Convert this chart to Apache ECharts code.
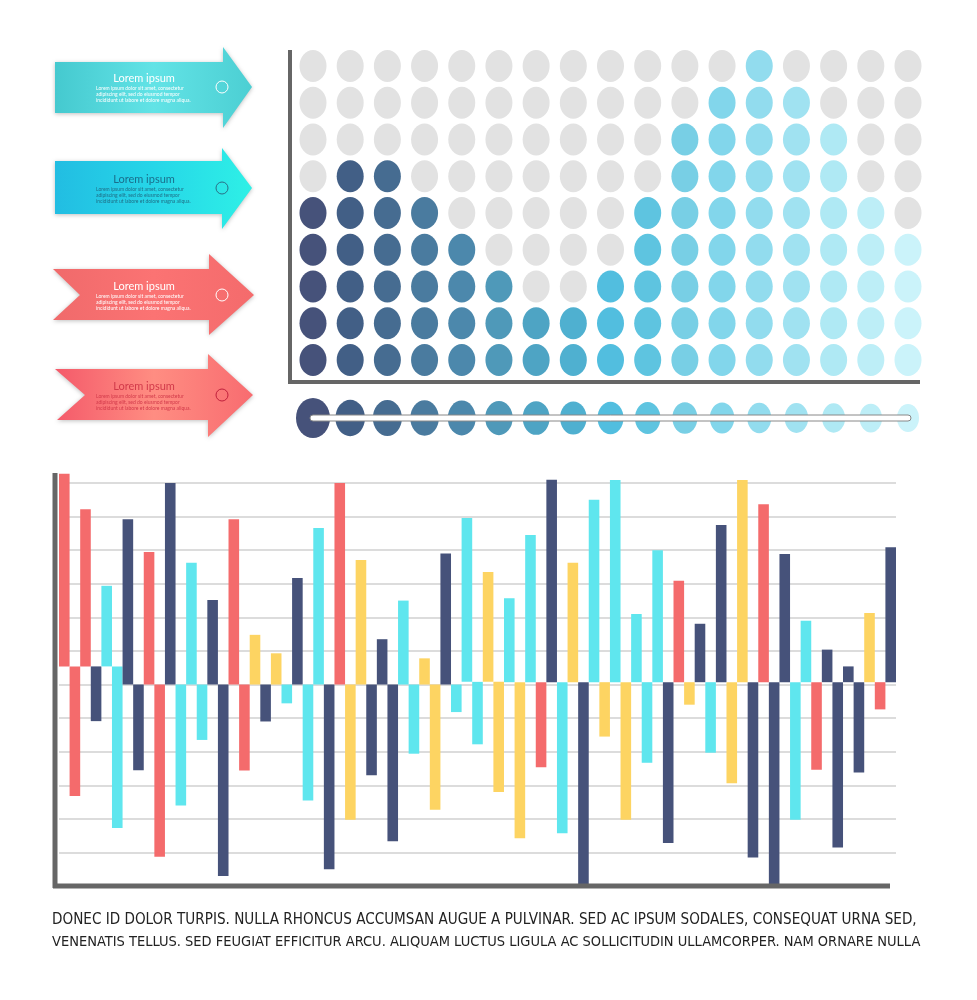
<!DOCTYPE html>
<html><head><meta charset="utf-8">
<script src="https://cdn.jsdelivr.net/npm/echarts@6/dist/echarts.min.js"></script>
<style>html,body{margin:0;padding:0;background:#fff}#c{width:977px;height:1000px}</style>
</head><body><div id="c"></div>
<script>
// ---- Dot matrix data ----
const dotColumnHeights = [5,6,6,5,4,3,2,2,3,5,7,8,9,8,7,5,4];
const dotRows = 9;
const dotColors = ['#46527a','#425f86','#466c91','#4a7b9f','#4c88ac','#4f99b9','#4ea4c4','#4fb0d0','#52bedf','#5ec4e0','#78cfe5','#82d6eb','#92dcee','#a0e2f1','#afe9f4','#bdeef7','#cbf3fa'];
// ---- Bar chart data: low / high value and colour key per bar ----
const barLow  = [0.54,-3.32,0.54,-1.09,0.54,-4.27,0,-2.55,0,-5.13,0,-3.6,0,-1.65,0,-5.7,0,-2.56,0,-1.1,0,-0.56,0,-3.45,0,-5.5,0,-4.03,0,-2.7,0,-4.67,0,-2.06,0,-3.73,0,-0.82,0.08,-1.78,0.08,-3.2,0.07,-4.58,0.07,-2.46,0.07,-4.43,0.07,-5.94,0.07,-1.55,0.07,-4.03,0.07,-2.33,0.07,-4.72,0.07,-0.6,0.07,-2.03,0.07,-2.94,0.07,-5.15,0.07,-5.94,0.07,-4.03,0.07,-2.54,0.07,-4.85,0.07,-2.62,0.07,-0.74,0.07];
const barHigh = [6.28,0.54,5.22,0.54,2.94,0.54,4.92,0,3.95,0,6.0,0,3.63,0,2.52,0,4.92,0,1.48,0,0.93,0,3.17,0,4.66,0,6.0,0,3.71,0,1.35,0,2.5,0,0.78,0,3.9,0,4.96,0.08,3.35,0.08,2.57,0.07,4.45,0.07,6.1,0.07,3.63,0.07,5.5,0.07,6.09,0.07,2.1,0.07,4.0,0.07,3.09,0.07,1.81,0.07,4.75,0.07,6.09,0.07,5.37,0.07,3.89,0.07,1.9,0.07,1.04,0.07,0.54,0.07,2.13,0.07,4.09];
const barColorKey = 'RRRNCCNNRRNCCCNNRRYNYCNCCNRYYNNNCCYYNCCCYYCYCRNCYNCYCYCCCNRYNCNYYNRNNCCRNNNNYRN';
const palette = {R:'#f46b6c', N:'#46527a', C:'#5fe6ee', Y:'#fdd462'};
const footerLines = [
 'DONEC ID DOLOR TURPIS. NULLA RHONCUS ACCUMSAN AUGUE A PULVINAR. SED AC IPSUM SODALES, CONSEQUAT URNA SED,',
 'VENENATIS TELLUS. SED FEUGIAT EFFICITUR ARCU. ALIQUAM LUCTUS LIGULA AC SOLLICITUDIN ULLAMCORPER. NAM ORNARE NULLA'
];
const arrowTitle = 'Lorem ipsum';
const arrowBody = 'Lorem ipsum dolor sit amet, consectetur\nadipiscing elit, sed do eiusmod tempor\nincididunt ut labore et dolore magna aliqua.';

// build
const dotData = [], dotGray = [];
dotColumnHeights.forEach((h,i)=>{
  for(let r=0;r<dotRows;r++){
    if(r<h) dotData.push({value:[i,r],itemStyle:{color:dotColors[i]}});
    else dotGray.push([i,r]);
  }
});
const rowData = dotColors.map((c,i)=>({value:[i,-1.58],symbolSize:i===0?[34,40]:[30-0.5*i,37-0.55*i],itemStyle:{color:c}}));
const cats = barLow.map((_,i)=>'b'+i);
const barData = barLow.map((l,i)=>[i,l,barHigh[i]]);

const chart = echarts.init(document.getElementById('c'));
function arrow(pts, colors, y0, ringColor, titleColor, bodyColor){
  return [
    {type:'polygon',shape:{points:pts},style:{fill:new echarts.graphic.LinearGradient(0,0,1,0,colors.map((c,i)=>({offset:i/(colors.length-1),color:c}))),shadowBlur:4,shadowColor:'rgba(0,0,0,0.25)',shadowOffsetY:1}},
    {type:'text',x:144,y:y0-14,style:{text:arrowTitle,fill:titleColor,font:'11px Lato',align:'center'}},
    {type:'text',x:96,y:y0-2,style:{text:arrowBody,fill:bodyColor,font:'5px Lato',lineHeight:6}},
    {type:'circle',shape:{cx:222,cy:y0,r:6},style:{fill:'none',stroke:ringColor,lineWidth:1}}
  ];
}
const graphics = [
  ...arrow([[55,62],[223,62],[223,47],[252,87],[223,128],[223,113],[55,113]],['#45c9cf','#62e3e6','#4ccfd3'],87,'#ffffff','#ffffff','#ffffff'),
  ...arrow([[55,161],[222,161],[222,148],[252,188],[222,229],[222,214],[55,214]],['#22bde2','#26d6e8','#2ef0e6'],188,'#2a6f86','#1a6f8c','#1f6e86'),
  ...arrow([[53,269],[209,269],[209,254],[254,295],[209,335],[209,320],[53,320],[80,295]],['#f06a6b','#fb7373','#f46b6c'],295,'#ffffff','#ffffff','#ffffff'),
  ...arrow([[55,369],[208,369],[208,354],[253,395],[208,437],[208,420],[57,420],[85,395]],['#f45a6a','#ff8d82','#f86c70'],395,'#c0203c','#d23a4a','#d23a4a'),
  {type:'line',shape:{x1:290,y1:50,x2:290,y2:384},style:{stroke:'#666',lineWidth:4}},
  {type:'line',shape:{x1:288,y1:382,x2:920,y2:382},style:{stroke:'#666',lineWidth:4}},
  {type:'line',shape:{x1:55,y1:473,x2:55,y2:888},style:{stroke:'#666',lineWidth:5},z:50},
  {type:'line',shape:{x1:53,y1:886,x2:890,y2:886},style:{stroke:'#666',lineWidth:5},z:50},
  {type:'text',x:52,y:913,style:{text:footerLines[0],fill:'#222',font:'15.1px "DejaVu Sans Condensed"'}},
  {type:'text',x:52,y:935,style:{text:footerLines[1],fill:'#222',font:'14.5px "DejaVu Sans Condensed"'}}
];
chart.setOption({
  animation:false,
  grid:[
    {left:313,right:69,top:66,bottom:582},
    {left:59,right:81,top:473,bottom:114}
  ],
  xAxis:[
    {type:'value',gridIndex:0,min:0,max:16,show:false},
    {type:'category',gridIndex:1,data:cats,axisLine:{show:false},axisTick:{show:false},axisLabel:{show:false}}
  ],
  yAxis:[
    {type:'value',gridIndex:0,min:-1.58,max:8,show:false},
    {type:'value',gridIndex:1,min:-6,max:6.3,interval:1,axisLine:{show:false},axisLabel:{show:false},axisTick:{show:false},
     splitLine:{show:true,showMinLine:false,showMaxLine:false,lineStyle:{color:'#dcdcdc',width:2}}}
  ],
  series:[
    {type:'scatter',xAxisIndex:0,yAxisIndex:0,data:dotGray,symbolSize:[27,32],itemStyle:{color:'#e2e2e2',opacity:1},z:2},
    {type:'scatter',xAxisIndex:0,yAxisIndex:0,data:dotData,symbolSize:[27,32],itemStyle:{opacity:1},z:3},
    {type:'scatter',xAxisIndex:0,yAxisIndex:0,data:rowData,itemStyle:{opacity:1},z:3},
    {type:'custom',xAxisIndex:1,yAxisIndex:1,data:barData,z:3,
     renderItem:(params,api)=>{
       const i=api.value(0);
       const p1=api.coord([i,api.value(2)]), p0=api.coord([i,api.value(1)]);
       const w=api.size([1,0])[0];
       return {type:'rect',shape:{x:p1[0]-w/2,y:p1[1],width:w,height:p0[1]-p1[1]},style:{fill:palette[barColorKey[i]]}};
     }}
  ],
  graphic:[...graphics,
    {type:'rect',shape:{x:310,y:415,width:601,height:6,r:3},style:{fill:'#fff',stroke:'#888',lineWidth:1},z:100}
  ]
});
</script></body></html>
